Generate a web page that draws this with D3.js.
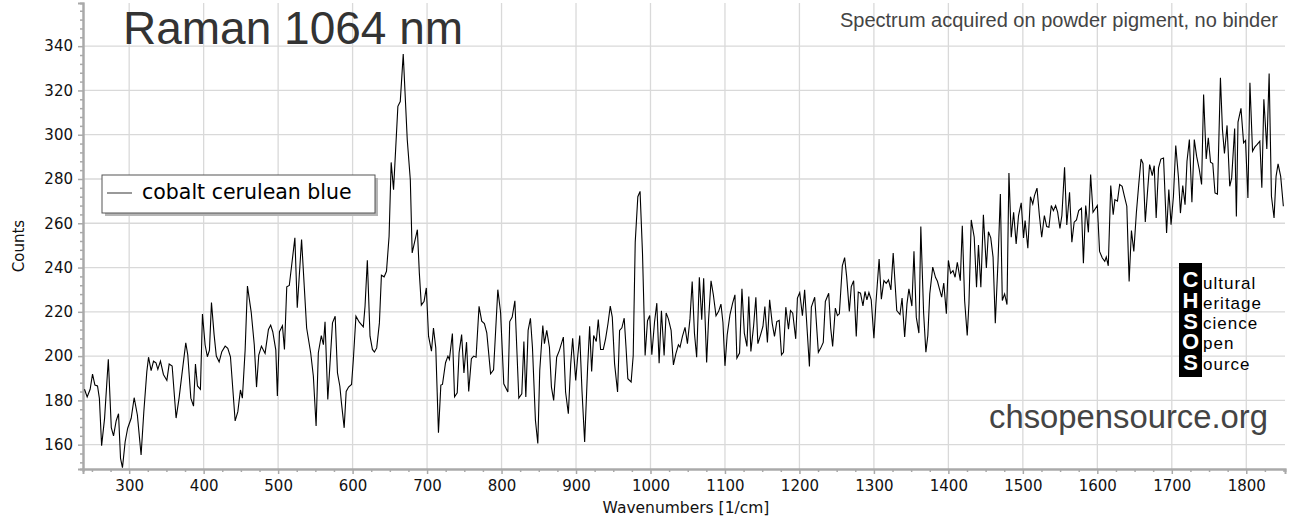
<!DOCTYPE html>
<html>
<head>
<meta charset="utf-8">
<script src="https://cdn.jsdelivr.net/npm/d3@7"></script>
<style>
  body { margin: 0; background: #fff; }
  svg { display: block; }
</style>
</head>
<body>
<div id="chart"></div>
<script>
// spectrum (wavenumber in 1/cm, counts)
const wavenumbers = [
  240, 243.6, 247.6, 250.8, 254, 257.5, 260, 263, 267, 272, 276, 279, 282.5, 285.7, 288.4, 291, 294.6, 298,
  302.7, 306.7, 311, 316, 319.7, 323.7, 326, 329.5, 332.7, 336, 338.5, 342, 346, 350.6, 353.7, 357.7, 363, 367,
  372, 376, 378.7, 382.8, 386.4, 389, 391.7, 395.7, 398.4, 402, 405, 407.8, 410.5, 414, 417, 420.8, 424.4, 428.9,
  432.4, 436, 442.3, 445.9, 449.4, 452, 455.7, 458.8, 463.8, 468, 471, 474, 477.6, 482.5, 487, 490, 492.8, 496.9,
  499, 501.8, 505.8, 508.5, 511.6, 515, 522.5, 525.7, 531.5, 538.3, 543.7, 547.3, 551, 554, 558, 560.8, 563, 566.7,
  570, 573, 576.6, 579.7, 582.9, 585, 588.7, 591.4, 594.6, 598.6, 601, 604.5, 609, 614.4, 616.7, 619.8, 623.4, 626.6,
  629.3, 632.4, 636, 638.7, 642.3, 645.5, 649, 651.8, 655, 660.8, 664, 668, 673.4, 677.5, 680, 687, 689.6, 692.3,
  696, 699, 702, 705.9, 708.6, 711.7, 715.3, 718.5, 720.7, 724.8, 728, 730, 734, 736.9, 740.5, 743, 746.4, 749.5,
  753, 755.9, 759.5, 762.6, 765.8, 769.8, 773.4, 777, 780.2, 785.3, 789.3, 795, 798.7, 803, 808.5, 811, 814.3, 817.9,
  823.2, 827.2, 830, 832.6, 835.7, 838.8, 841.5, 845.5, 848.7, 851.3, 855.4, 857.6, 860.7, 864.3, 867, 870, 874, 877.7,
  880.4, 883, 886, 889.7, 892.9, 895.5, 899.6, 902, 905, 908, 911.6, 915.6, 918.3, 921, 923.7, 927.2, 929.9, 933,
  936.6, 939.7, 942.9, 946, 948.7, 951.8, 955.8, 958.5, 961.6, 964.7, 967, 969.6, 974, 976.8, 979.5, 983, 986, 989.3,
  992.8, 996, 999, 1001.8, 1005.4, 1008.5, 1011.6, 1014.7, 1018.3, 1021, 1024, 1027.7, 1030.8, 1034, 1037.5, 1039.7,
  1042.9, 1046.4, 1049.6, 1053, 1056, 1059, 1062, 1065.6, 1068.8, 1071.4, 1075.4, 1078, 1081.3, 1084.4, 1088, 1091.5,
  1094.6, 1097.3, 1100, 1103, 1106.7, 1110.3, 1113.4, 1116, 1119.6, 1122.8, 1126, 1129.5, 1132, 1134.8, 1138.4, 1141.5,
  1144.2, 1147.8, 1151, 1153.6, 1157, 1160, 1163.4, 1166.5, 1169.6, 1172.8, 1175.9, 1178.6, 1181.7, 1185.3, 1188, 1191,
  1195, 1197.3, 1200.4, 1204, 1207, 1210, 1213.4, 1216, 1220.5, 1225.4, 1228.6, 1232, 1234.8, 1239.3, 1242, 1244.6,
  1248.2, 1251, 1253.6, 1257.6, 1260.7, 1263.4, 1267, 1269.6, 1272.8, 1276.3, 1279, 1282, 1285.3, 1288, 1290.6, 1293.3,
  1296.4, 1300, 1302.7, 1307, 1310, 1313.4, 1316.5, 1319.6, 1322.8, 1325.9, 1330.7, 1335, 1337.8, 1341.3, 1344.4, 1347,
  1351, 1353.8, 1356.9, 1360.4, 1363, 1366.7, 1369.8, 1372.4, 1375, 1379, 1382.7, 1385.3, 1388, 1391, 1393.8, 1397.3,
  1400, 1403, 1406.2, 1409, 1412, 1416, 1418.7, 1421.8, 1425.3, 1427.6, 1430.7, 1434.7, 1437.8, 1440.4, 1443.6, 1447,
  1451, 1453.8, 1456.9, 1460, 1463, 1466.7, 1469.8, 1472.4, 1475.5, 1478.7, 1481.3, 1484.4, 1487.6, 1491, 1494.2, 1497.8,
  1500.9, 1503, 1506.7, 1510.2, 1513.3, 1515.6, 1519, 1522.2, 1525.3, 1528.9, 1532, 1535, 1538.2, 1541, 1544, 1546.7,
  1549.8, 1552.4, 1556, 1559, 1562.7, 1565.8, 1568.9, 1572, 1575, 1578.7, 1581.3, 1584.4, 1588, 1591, 1594.2, 1600,
  1603, 1606.7, 1610, 1612, 1614.7, 1618, 1621.3, 1623.6, 1627, 1630, 1633.3, 1636.4, 1639.6, 1642.7, 1645.8, 1649,
  1652.4, 1655.6, 1658.7, 1661.3, 1664.4, 1667.6, 1670.2, 1673.8, 1676.4, 1679, 1682.2, 1685.3, 1688.9, 1693, 1696, 1699,
  1702.2, 1705.3, 1709, 1711.6, 1714.7, 1717.8, 1720.4, 1723.6, 1727, 1730.2, 1733.3, 1736.9, 1740, 1742.7, 1746.2, 1749,
  1752, 1755, 1758, 1761.3, 1765.3, 1768, 1770.7, 1774.2, 1777.8, 1780.4, 1784.4, 1786.7, 1788.9, 1792.9, 1796.4, 1799,
  1802.2, 1804.9, 1808.4, 1811.6, 1814.7, 1818.2, 1820.9, 1823.6, 1827.6, 1830.7, 1833.8, 1837.3, 1840, 1842.7, 1846.2, 1849.8
];
const counts = [
  185, 181.6, 185, 191.9, 186.9, 186.5, 180.9, 159.5, 172, 198.6, 167.7, 164, 170.7, 174, 153.8, 149.6, 161.3, 167.4,
  171.9, 181.2, 173.4, 155.3, 175, 193, 199.5, 193.4, 197.7, 197, 194, 197.7, 191.7, 189, 196.4, 195.5, 172, 181,
  195, 206, 200.5, 181, 177.4, 196.4, 186.5, 185, 219, 205, 199.7, 202.7, 224.2, 209.8, 200, 197.4, 202, 204.5,
  203.5, 199.7, 170.7, 174.9, 184.7, 181, 202.7, 231.6, 220, 205, 186, 200.5, 204.5, 201.2, 212, 214, 211, 202.7,
  182, 211, 213.7, 203, 231.3, 231.9, 253.4, 221.8, 252.6, 212.7, 201.5, 191, 168.4, 201.5, 209.3, 205.2, 215.5, 180.4,
  198.5, 215, 218, 192.4, 186.4, 179, 167.6, 184, 186, 187.2, 198.5, 218, 215.3, 213.2, 222.5, 243.3, 209, 203,
  201.8, 203.7, 215, 236.5, 235.8, 238.3, 254.1, 287.5, 275.2, 312.8, 315, 336.5, 297.7, 279.7, 246.6, 257.1, 237.6, 223,
  224.8, 230.8, 209, 202.2, 212.7, 203.7, 165.4, 186.9, 187.2, 197, 200, 198.5, 210.2, 181.6, 183.4, 201.5, 209.7, 192.4,
  206.3, 184, 198.8, 200, 199.5, 222.5, 215.8, 214.7, 210.5, 192, 193.8, 230, 219.8, 187.5, 183.8, 215.6, 217.6, 225,
  181, 183, 206.6, 181.5, 211.6, 217.1, 204, 171, 160.5, 193.5, 213.8, 205.6, 211.6, 204, 186, 180, 199.5, 202.6,
  205.6, 208.6, 183.8, 174, 196.5, 208, 189, 198.8, 209.3, 184.5, 161.2, 195, 213.5, 193, 209.3, 206.6, 216.5, 203,
  203, 207.8, 214.6, 222.6, 217.6, 196.5, 183.8, 211.6, 212.8, 217.1, 204.8, 189.8, 188.3, 200.3, 251.4, 272, 274.4, 246.2,
  200.3, 216, 218.3, 200.6, 215.3, 223.9, 196.8, 220.5, 200.3, 219.5, 216.8, 211.6, 196, 201, 205.1, 204,
  208.9, 213, 205.6, 216.8, 233.7, 210.4, 199.5, 235.6, 216.4, 235.2, 197.1, 216.4, 234, 227.7, 218.2, 220.2,
  223.5, 215.2, 195.6, 209.6, 218.6, 223.9, 227.7, 199.1, 201.4, 230.4, 210.4, 204.4, 226.9, 202.1, 213.4, 226.6,
  205.6, 209.6, 213.4, 222.4, 206.2, 225.4, 214.9, 208.9, 215.6, 216.1, 200.6, 201.7, 222.1, 212.2, 220.6, 219.4,
  207.8, 226.2, 228.7, 218.2, 229.9, 213.7, 195.3, 222.1, 226.6, 201.7, 203.6, 206.2, 224.7, 228.4, 212.6, 204.4,
  221.7, 218.3, 219.1, 240.8, 244.5, 235.9, 220.2, 231.4, 234, 208.9, 228.9, 228.4, 222.7, 229.2, 225.4, 228.7,
  225.4, 208.1, 223.9, 243.8, 225.7, 234.1, 232.9, 234.4, 229.9, 246.5, 220.6, 218.8, 226.2, 208.6, 223.6, 230.4,
  222.6, 247.4, 217.6, 210.4, 258.5, 219.8, 201.8, 209.3, 228.1, 240.2, 235.6, 233.8, 230.4, 226.6, 233, 219.1,
  243.2, 237.4, 238.6, 235.6, 242.4, 234.1, 258.9, 225.1, 209.3, 223.6, 261.5, 253.7, 231.1, 250.2, 231.1, 263.8,
  239.8, 256.2, 253.4, 244.7, 214.9, 243.2, 273.2, 225.1, 228.1, 223.3, 282.7, 253.7, 265, 250.7, 263.5, 269.2,
  253.4, 261.2, 248.7, 272, 268.7, 272.5, 275.9, 263.5, 253.7, 263.5, 258.5, 258.2, 268, 265.7, 268, 265,
  257.7, 263.5, 285.3, 259.2, 274, 251.4, 260.5, 261.5, 265.7, 266.8, 242, 268, 255.9, 282, 265, 268,
  247.3, 244.3, 242.8, 244.8, 240.8, 277, 263.9, 270.7, 270, 277.5, 276.7, 272.2, 267.7, 233.7, 256.7, 247.3,
  264.6, 277.5, 289, 287, 260.6, 275.2, 286.5, 281.5, 286, 262.4, 285, 289, 289.5, 255.6, 275.2, 259.4,
  272.2, 295.1, 280.5, 264.6, 277, 268.4, 288, 297.8, 269.5, 297.8, 290.3, 284.3, 277.5, 318.2, 289, 298.6,
  287.6, 287, 273.7, 273.2, 325.7, 302.4, 291.5, 304.2, 276.7, 280.5, 302.8, 263.1, 305.7, 311.9, 296.3, 297.4,
  271.4, 323.5, 292.5, 294.5, 295.6, 297.1, 276, 316, 293.6, 327.7, 272.2, 262.4, 281.2, 286.8, 281.2, 267.7
];

const seriesName = "cobalt cerulean blue";
const xTicks = [300, 400, 500, 600, 700, 800, 900, 1000, 1100, 1200, 1300, 1400, 1500, 1600, 1700, 1800];
const yTicks = [160, 180, 200, 220, 240, 260, 280, 300, 320, 340];
const logoInitials = "CHSOS";
const logoWords = ["ultural", "eritage", "cience", "pen", "ource"];

var width = 1293, height = 524;
var plot = {left: 83, right: 1285, top: 3, bottom: 469};
var font = "'Liberation Sans', Arial, sans-serif";
var axisFont = "'DejaVu Sans', Verdana, sans-serif";

var svg = d3.select("#chart").append("svg")
    .attr("width", width)
    .attr("height", height);

var x = d3.scaleLinear().domain([238, 1852]).range([plot.left, plot.right]);
var y = d3.scaleLinear().domain([149, 359.5]).range([plot.bottom, plot.top]);

// grid
var grid = svg.append("g").attr("stroke", "#d9d9d9").attr("stroke-width", 1.3);
grid.selectAll(".vx").data(xTicks).enter().append("line")
    .attr("x1", d => x(d)).attr("x2", d => x(d))
    .attr("y1", plot.top).attr("y2", plot.bottom);
grid.selectAll(".hy").data(yTicks).enter().append("line")
    .attr("x1", plot.left).attr("x2", plot.right)
    .attr("y1", d => y(d)).attr("y2", d => y(d));

// axes (major + minor ticks)
function styleAxis(g) {
  g.select(".domain").attr("stroke", "#a9a9a9").attr("stroke-width", 2);
  g.selectAll(".tick line").attr("stroke", "#a9a9a9").attr("stroke-width", 1.5);
  g.selectAll(".tick text").attr("fill", "#111").style("font-family", axisFont).style("font-size", "15px");
}

var xMinor = d3.range(250, 1851, 25).filter(d => d % 100 !== 0);
var yMinor = d3.range(152, 359, 4).filter(d => d % 20 !== 0);

svg.append("g")
    .attr("transform", `translate(0,${plot.bottom})`)
    .call(d3.axisBottom(x).tickValues(xMinor).tickSize(3).tickFormat(""))
    .call(styleAxis);
svg.append("g")
    .attr("transform", `translate(${plot.left},0)`)
    .call(d3.axisLeft(y).tickValues(yMinor).tickSize(3).tickFormat(""))
    .call(styleAxis);
svg.append("g")
    .attr("transform", `translate(0,${plot.bottom})`)
    .call(d3.axisBottom(x).tickValues(xTicks).tickSize(5).tickPadding(6).tickFormat(d3.format("d")))
    .call(styleAxis);
svg.append("g")
    .attr("transform", `translate(${plot.left},0)`)
    .call(d3.axisLeft(y).tickValues(yTicks).tickSize(5).tickPadding(5).tickFormat(d3.format("d")))
    .call(styleAxis);

// axis titles
svg.append("text")
    .attr("x", 686).attr("y", 513)
    .attr("text-anchor", "middle")
    .style("font-family", axisFont).style("font-size", "15.5px").attr("fill", "#111")
    .text("Wavenumbers [1/cm]");
svg.append("text")
    .attr("transform", "translate(24,246) rotate(-90)")
    .attr("text-anchor", "middle")
    .style("font-family", axisFont).style("font-size", "15px").attr("fill", "#111")
    .text("Counts");

// spectrum
svg.append("clipPath").attr("id", "clip").append("rect")
    .attr("x", plot.left).attr("y", plot.top)
    .attr("width", plot.right - plot.left).attr("height", plot.bottom - plot.top);

var line = d3.line()
    .x((d, i) => x(wavenumbers[i]))
    .y(d => y(d));

svg.append("path")
    .datum(counts)
    .attr("clip-path", "url(#clip)")
    .attr("fill", "none")
    .attr("stroke", "#000")
    .attr("stroke-width", 1.1)
    .attr("d", line);

// title + note
svg.append("text")
    .attr("x", 123).attr("y", 44)
    .style("font-family", font).style("font-size", "46px").attr("fill", "#333")
    .text("Raman 1064 nm");
svg.append("text")
    .attr("x", 1278).attr("y", 27)
    .attr("text-anchor", "end")
    .style("font-family", font).style("font-size", "20px").attr("fill", "#444")
    .text("Spectrum acquired on powder pigment, no binder");

// legend
var legend = svg.append("g");
legend.append("rect")
    .attr("x", 105).attr("y", 178).attr("width", 273).attr("height", 38)
    .attr("fill", "#b5b5b5");
legend.append("rect")
    .attr("x", 102).attr("y", 175).attr("width", 273).attr("height", 38)
    .attr("fill", "#fff").attr("stroke", "#555").attr("stroke-width", 1);
legend.append("line")
    .attr("x1", 107).attr("x2", 132).attr("y1", 193).attr("y2", 193)
    .attr("stroke", "#555").attr("stroke-width", 1.2);
legend.append("text")
    .attr("x", 142).attr("y", 199)
    .style("font-family", axisFont).style("font-size", "20.5px").attr("fill", "#000")
    .text(seriesName);

// CHSOS logo: initials stacked as one vertical text
var logo = svg.append("g");
logo.append("rect")
    .attr("x", 1179).attr("y", 263).attr("width", 23).attr("height", 114)
    .attr("fill", "#000");
logo.append("text")
    .attr("x", 1190.5).attr("y", 267)
    .style("writing-mode", "vertical-rl")
    .style("text-orientation", "upright")
    .style("letter-spacing", "-4.2px")
    .style("font-family", font).style("font-size", "22px").style("font-weight", "bold")
    .attr("fill", "#fff")
    .text(logoInitials);
logo.selectAll(".small").data(logoWords).enter().append("text")
    .attr("x", 1203).attr("y", (d, i) => 288.5 + i * 20.3)
    .style("font-family", font).style("font-size", "17px").style("letter-spacing", "1px")
    .attr("fill", "#000")
    .text(d => d);

svg.append("text")
    .attr("x", 1268).attr("y", 428)
    .attr("text-anchor", "end")
    .style("font-family", font).style("font-size", "32.8px").attr("fill", "#444")
    .text("chsopensource.org");
</script>
</body>
</html>
